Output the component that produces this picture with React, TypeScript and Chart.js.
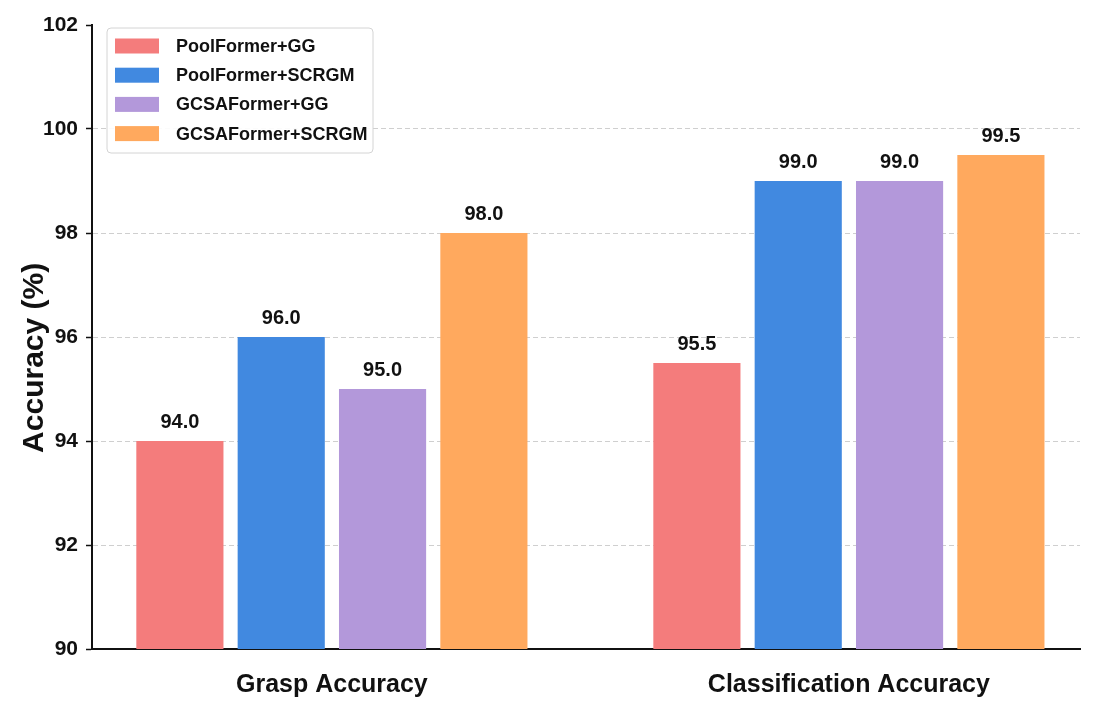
import React, { useEffect, useRef } from 'react';
import { Chart, registerables } from 'chart.js';

Chart.register(...registerables);

const categories = ['Grasp Accuracy', 'Classification Accuracy'];
const methods = ['PoolFormer+GG', 'PoolFormer+SCRGM', 'GCSAFormer+GG', 'GCSAFormer+SCRGM'];
const poolFormerGG = [94.0, 95.5];
const poolFormerSCRGM = [96.0, 99.0];
const gcsaFormerGG = [95.0, 99.0];
const gcsaFormerSCRGM = [98.0, 99.5];
const yTicks = [90, 92, 94, 96, 98, 100, 102];

const colors = ['#F47C7C', '#4189E0', '#B398DA', '#FFA95E'];
const FONT = "'Liberation Sans', Arial, sans-serif";
const INK = '#111111';

// numbers above the bars
const valueLabels = {
  id: 'valueLabels',
  afterDatasetsDraw(chart: any) {
    const ctx = chart.ctx;
    ctx.save();
    ctx.font = `bold 20px ${FONT}`;
    ctx.fillStyle = INK;
    ctx.textAlign = 'center';
    ctx.textBaseline = 'bottom';
    chart.data.datasets.forEach((ds: any, i: number) => {
      chart.getDatasetMeta(i).data.forEach((bar: any, j: number) => {
        ctx.fillText(ds.data[j].y.toFixed(1), bar.x, bar.y - 9);
      });
    });
    ctx.restore();
  },
};

// legend box in the upper left of the plot
const boxLegend = {
  id: 'boxLegend',
  afterDraw(chart: any) {
    const ctx = chart.ctx;
    const { left, top } = chart.chartArea;
    const x = left + 15;
    const y = top + 3;
    const w = 266;
    const h = 125;
    ctx.save();
    ctx.beginPath();
    ctx.roundRect(x, y, w, h, 4);
    ctx.fillStyle = 'rgba(255,255,255,0.92)';
    ctx.fill();
    ctx.strokeStyle = '#d4d4d4';
    ctx.lineWidth = 1;
    ctx.stroke();
    ctx.font = `bold 18px ${FONT}`;
    ctx.textBaseline = 'middle';
    ctx.textAlign = 'left';
    chart.data.datasets.forEach((ds: any, i: number) => {
      const cy = y + 18 + i * 29.2;
      ctx.fillStyle = ds.backgroundColor;
      ctx.fillRect(x + 8, cy - 7.5, 44, 15);
      ctx.fillStyle = INK;
      ctx.fillText(ds.label, x + 69, cy + 1);
    });
    ctx.restore();
  },
};

const App: React.FC = () => {
  const chartRef = useRef<HTMLCanvasElement>(null);
  const chartInstance = useRef<Chart | null>(null);

  useEffect(() => {
    document.body.style.margin = '0';
    if (chartInstance.current) {
      chartInstance.current.destroy();
    }
    if (chartRef.current) {
      const ctx = chartRef.current.getContext('2d');
      if (ctx) {
        const series = [poolFormerGG, poolFormerSCRGM, gcsaFormerGG, gcsaFormerSCRGM];
        // @ts-ignore
        chartInstance.current = new Chart(ctx, {
          type: 'bar',
          data: {
            datasets: series.map((values, i) => ({
              label: methods[i],
              data: values.map((v, j) => ({ x: j, y: v })),
              backgroundColor: colors[i],
              borderWidth: 0,
              categoryPercentage: 0.784,
              barPercentage: 0.86,
            })),
          },
          options: {
            responsive: false,
            maintainAspectRatio: false,
            animation: false,
            layout: { padding: { top: 25, right: 22, bottom: 0, left: 0 } },
            plugins: {
              legend: { display: false },
              tooltip: { enabled: false },
            },
            scales: {
              x: {
                type: 'linear',
                offset: false,
                min: -0.464,
                max: 1.447,
                afterBuildTicks: (s: any) => {
                  s.ticks = categories.map((_, i) => ({ value: i }));
                },
                afterFit: (s: any) => {
                  s.height = 61;
                },
                ticks: {
                  callback: (v: any) => categories[v] ?? '',
                  font: { family: FONT, size: 25, weight: 'bold' },
                  color: INK,
                  padding: 21,
                  maxRotation: 0,
                  autoSkip: false,
                },
                grid: { display: false, drawTicks: false, offset: false },
                border: { color: INK, width: 2 },
              },
              y: {
                min: yTicks[0],
                max: yTicks[yTicks.length - 1],
                afterBuildTicks: (s: any) => {
                  s.ticks = yTicks.map((v) => ({ value: v }));
                },
                afterFit: (s: any) => {
                  s.width = 92;
                },
                ticks: {
                  font: { family: FONT, size: 21, weight: 'bold' },
                  color: INK,
                  padding: 8,
                },
                grid: {
                  color: (c: any) => (c.tick && c.tick.value === 102 ? 'rgba(0,0,0,0)' : '#cfcfcf'),
                  lineWidth: 1,
                  tickColor: INK,
                  tickLength: 6,
                  tickWidth: 1.5,
                  tickBorderDash: [],
                },
                border: { color: INK, width: 2, dash: [5, 3] },
                title: {
                  display: true,
                  text: 'Accuracy (%)     ',
                  color: INK,
                  font: { family: FONT, size: 30, weight: 'bold' },
                  padding: { top: 17, bottom: 0 },
                },
              },
            },
          },
          plugins: [valueLabels, boxLegend],
        });
      }
    }
    return () => {
      if (chartInstance.current) {
        chartInstance.current.destroy();
        chartInstance.current = null;
      }
    };
  }, []);

  return (
    <div style={{ width: 1102, height: 710, background: '#fff' }}>
      <canvas ref={chartRef} width={1102} height={710}></canvas>
    </div>
  );
};

export default App;
